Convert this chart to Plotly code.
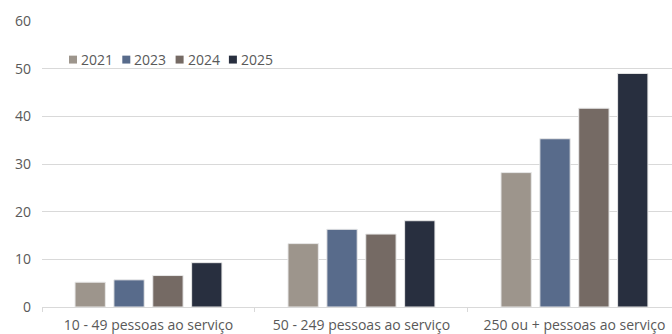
import plotly.graph_objects as go

categories = ["10 - 49 pessoas ao serviço", "50 - 249 pessoas ao serviço", "250 ou + pessoas ao serviço"]
years = ["2021", "2023", "2024", "2025"]
v2021 = [5.2, 13.3, 28.2]
v2023 = [5.7, 16.3, 35.3]
v2024 = [6.6, 15.3, 41.7]
v2025 = [9.3, 18.1, 49.0]
colors = ["#9d958c", "#586b8b", "#756a64", "#282f3f"]

series = [v2021, v2023, v2024, v2025]
W, H = 672, 334
ML, MT, MB = 42, 21, 24
PW, PH = W - ML, H - MT - MB

fig = go.Figure()
for name, vals, col in zip(years, series, colors):
    fig.add_trace(go.Bar(x=categories, y=vals, name=name, showlegend=False,
                         marker=dict(color=col, line=dict(color="#e8e8e8", width=1))))

font = "Open Sans, Noto Sans, Liberation Sans, sans-serif"

# custom compact legend (Excel-like)
shapes, annots = [], []
lx0, lstep, sw, ly = 69, 53.3, 8, 60
for i, (name, col) in enumerate(zip(years, colors)):
    x0 = lx0 + i * lstep
    shapes.append(dict(type="rect", xref="paper", yref="paper",
                       x0=(x0 - ML) / PW, x1=(x0 + sw - ML) / PW,
                       y0=(H - MB - (ly + sw / 2)) / PH, y1=(H - MB - (ly - sw / 2)) / PH,
                       fillcolor=col, line=dict(width=0)))
    annots.append(dict(text=name, xref="paper", yref="paper", showarrow=False,
                       x=(x0 + sw + 2 - ML) / PW, y=(H - MB - ly) / PH,
                       xanchor="left", yanchor="middle",
                       font=dict(size=14, color="#595959", family=font)))

fig.update_layout(
    width=W, height=H,
    margin=dict(l=ML, r=0, t=MT, b=MB),
    paper_bgcolor="white", plot_bgcolor="white",
    barmode="group", bargap=0.27, bargroupgap=0.22,
    font=dict(family=font, size=14, color="#595959"),
    shapes=shapes, annotations=annots,
    xaxis=dict(range=[-0.5, 2.458], showline=True, linecolor="#d9d9d9", linewidth=1,
               ticks="outside", tickson="boundaries", ticklen=4, tickcolor="#d9d9d9",
               showgrid=False, tickfont=dict(size=14, color="#595959"), ticklabelstandoff=5),
    yaxis=dict(range=[0, 60], dtick=10, showgrid=True, gridcolor="#d9d9d9", gridwidth=1,
               zeroline=False, ticks="", tickfont=dict(size=14, color="#595959"), ticklabelstandoff=10),
)
fig.write_html("out.html", config={"displayModeBar": False},
               post_script="document.body.style.margin='0';document.body.style.overflow='hidden';")
